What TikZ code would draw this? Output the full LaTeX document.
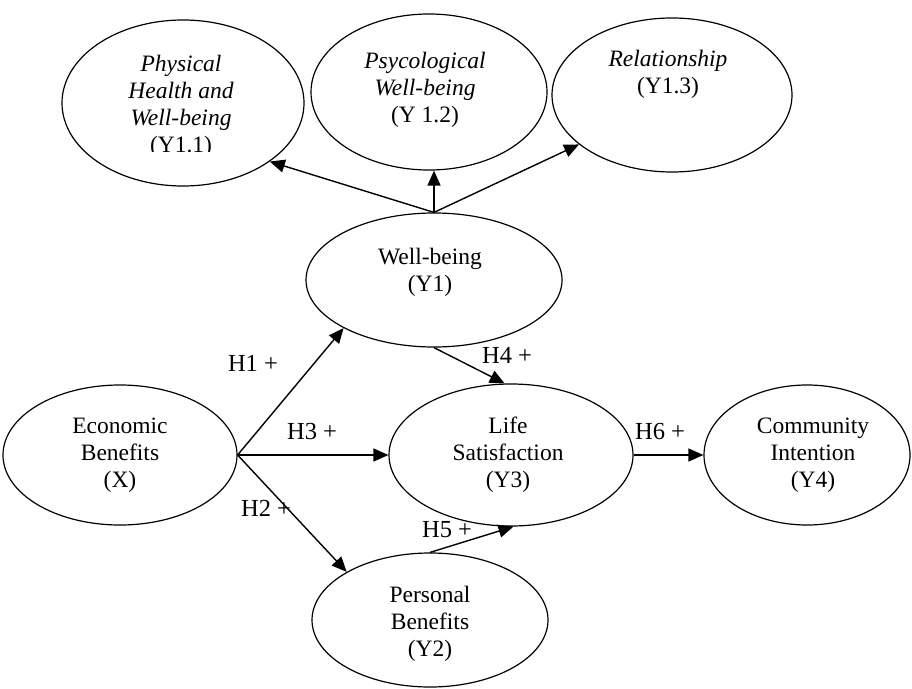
\documentclass[tikz,border=0pt]{standalone}
\usepackage{fontspec}
\setmainfont{Liberation Serif}
\usetikzlibrary{shapes.geometric,arrows.meta}
\tikzset{
  ell/.style={draw, ellipse, line width=1.2pt, inner sep=0pt},
  txt/.style={align=center, inner sep=0pt, font=\fontsize{23.5}{27}\selectfont},
  hyp/.style={inner sep=0pt, font=\fontsize{24.5}{27}\selectfont},
  arr/.style={line width=1.4pt, -{Triangle[length=15pt,width=13pt]}}
}
\begin{document}
\begin{tikzpicture}[x=1pt,y=-1pt]
\useasboundingbox (0,0) rectangle (912,688);
% ellipses
\node[ell, minimum width=242pt, minimum height=166pt] (phys) at (183,103) {};
\node[ell, minimum width=236pt, minimum height=156pt] (psy) at (429,92) {};
\node[ell, minimum width=240pt, minimum height=154pt] (rel) at (672,95) {};
\node[ell, minimum width=256pt, minimum height=134pt] (wb) at (434,280) {};
\node[ell, minimum width=244pt, minimum height=142pt] (ls) at (511,455) {};
\node[ell, minimum width=234pt, minimum height=140pt] (x) at (120,455) {};
\node[ell, minimum width=206pt, minimum height=140pt] (ci) at (807,455) {};
\node[ell, minimum width=236pt, minimum height=134pt] (pb) at (430,620) {};
% texts
\begin{scope}
\clip (60,15) rectangle (305,151);
\node[txt] (physt) at (181,106) {\textit{Physical}\\\textit{Health and}\\\textit{Well-being}\\(Y1.1)};
\end{scope}
\node[txt] (psyt) at (425,90) {\textit{Psycological}\\\textit{Well-being}\\(Y 1.2)};
\node[txt] (relt) at (668,74) {\textit{Relationship}\\(Y1.3)};
\node[txt] (wbt) at (430,272) {Well-being\\(Y1)};
\node[txt] (lst) at (508,455) {Life\\Satisfaction\\(Y3)};
\node[txt] (xt) at (120,455) {Economic\\Benefits\\(X)};
\node[txt] (cit) at (813,455) {Community\\Intention\\(Y4)};
\node[txt] (pbt) at (430,624) {Personal\\Benefits\\(Y2)};
% arrows
\draw[arr] (wb.north) -- (phys.-34);
\draw[arr] (wb.north) -- (wb.north |- psy.south);
\draw[arr] (wb.north) -- (rel.208);
\draw[arr] (x.east) -- (wb.208);
\draw[arr] (x.east) -- (ls.west);
\draw[arr] (x.east) -- (pb.150);
\draw[arr] (wb.south) -- (ls.95);
\draw[arr] (pb.north) -- (ls.272);
\draw[arr] (ls.east) -- (ci.west);
% labels
\node[hyp] (h1) at (253,363) {H1 +};
\node[hyp] (h3) at (312,432) {H3 +};
\node[hyp] (h4) at (507,355) {H4 +};
\node[hyp] (h2) at (266,508) {H2 +};
\node[hyp] (h5) at (447,530) {H5 +};
\node[hyp] (h6) at (660,432) {H6 +};
\end{tikzpicture}
\end{document}
